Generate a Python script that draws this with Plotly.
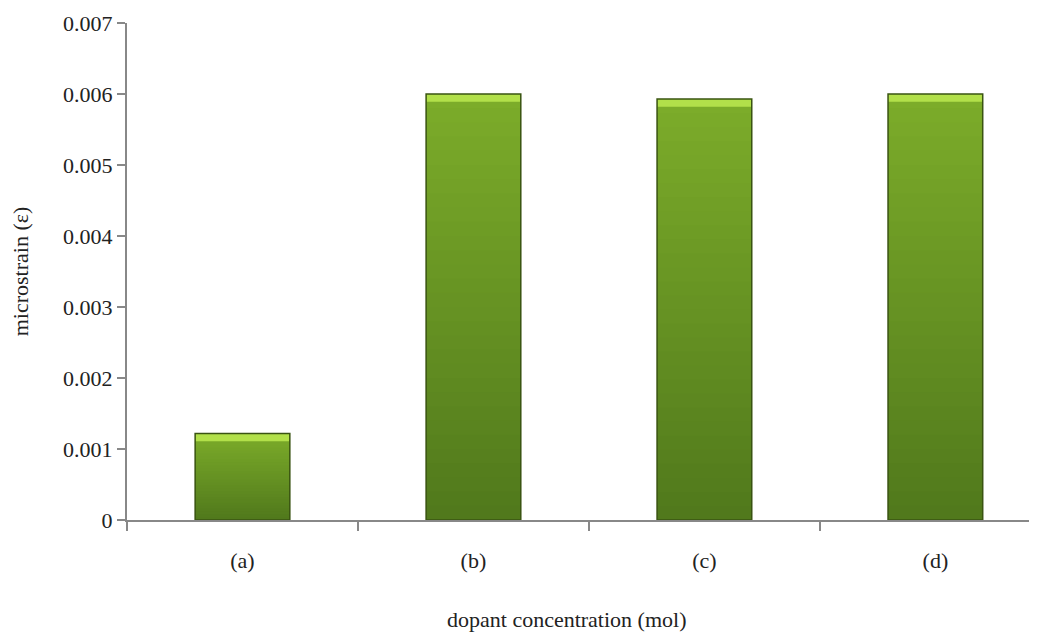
import plotly.graph_objects as go

categories = ["(a)", "(b)", "(c)", "(d)"]
microstrain = [0.00122, 0.00600, 0.00593, 0.00600]
y_ticks = [0, 0.001, 0.002, 0.003, 0.004, 0.005, 0.006, 0.007]
y_tick_labels = ["0", "0.001", "0.002", "0.003", "0.004", "0.005", "0.006", "0.007"]

BAR_W = 0.41
N = 30
bottom_rgb = (80, 120, 28)
top_rgb = (124, 172, 42)

fig = go.Figure()

# vertical gradient: overlapping bars, tallest (lightest) first, shorter darker on top
for k in range(N):
    frac = 1 - k / N
    c = tuple(int(bottom_rgb[i] + (top_rgb[i] - bottom_rgb[i]) * frac) for i in range(3))
    fig.add_trace(go.Bar(
        x=categories,
        y=[v * frac for v in microstrain],
        width=BAR_W,
        marker=dict(color="rgb(%d,%d,%d)" % c, line=dict(width=0)),
        hoverinfo="skip", showlegend=False,
    ))

# top bevel highlight
bevel = 0.00011
fig.add_trace(go.Bar(
    x=categories,
    y=[bevel] * len(microstrain),
    base=[v - bevel for v in microstrain],
    width=BAR_W,
    marker=dict(color="rgb(178,224,74)", line=dict(width=0)),
    hoverinfo="skip", showlegend=False,
))

# outline
fig.add_trace(go.Bar(
    x=categories, y=microstrain, width=BAR_W,
    marker=dict(color="rgba(0,0,0,0)", line=dict(color="rgb(58,84,18)", width=1.5)),
    showlegend=False,
))

fig.update_layout(
    barmode="overlay",
    width=1029, height=624,
    margin=dict(l=119, r=0, t=15, b=112, autoexpand=False),
    paper_bgcolor="white", plot_bgcolor="white",
    font=dict(family="Liberation Serif, Times New Roman, serif", size=22, color="#222"),
    annotations=[dict(
        text="dopant concentration (mol)", xref="paper", yref="paper",
        x=0.4835, y=-0.201, xanchor="center", yanchor="middle",
        showarrow=False, font=dict(size=22),
    )],
)
fig.update_xaxes(
    type="category",
    range=[-0.5, 3.44],
    tickson="boundaries",
    ticks="outside", ticklen=9, tickwidth=2, tickcolor="#888",
    showline=True, linecolor="#888", linewidth=2,
    showgrid=False, zeroline=False,
    tickfont=dict(size=22),
    ticklabelstandoff=20,
    automargin=False,
)
fig.update_yaxes(
    range=[0, 0.007],
    tickvals=y_ticks, ticktext=y_tick_labels,
    ticks="outside", ticklen=8, tickwidth=2, tickcolor="#888",
    showline=True, linecolor="#888", linewidth=2,
    showgrid=False, zeroline=False,
    tickfont=dict(size=22),
    automargin=False,
    title=dict(text="microstrain (ε)", font=dict(size=22), standoff=48),
)

fig.write_html("out.html")
